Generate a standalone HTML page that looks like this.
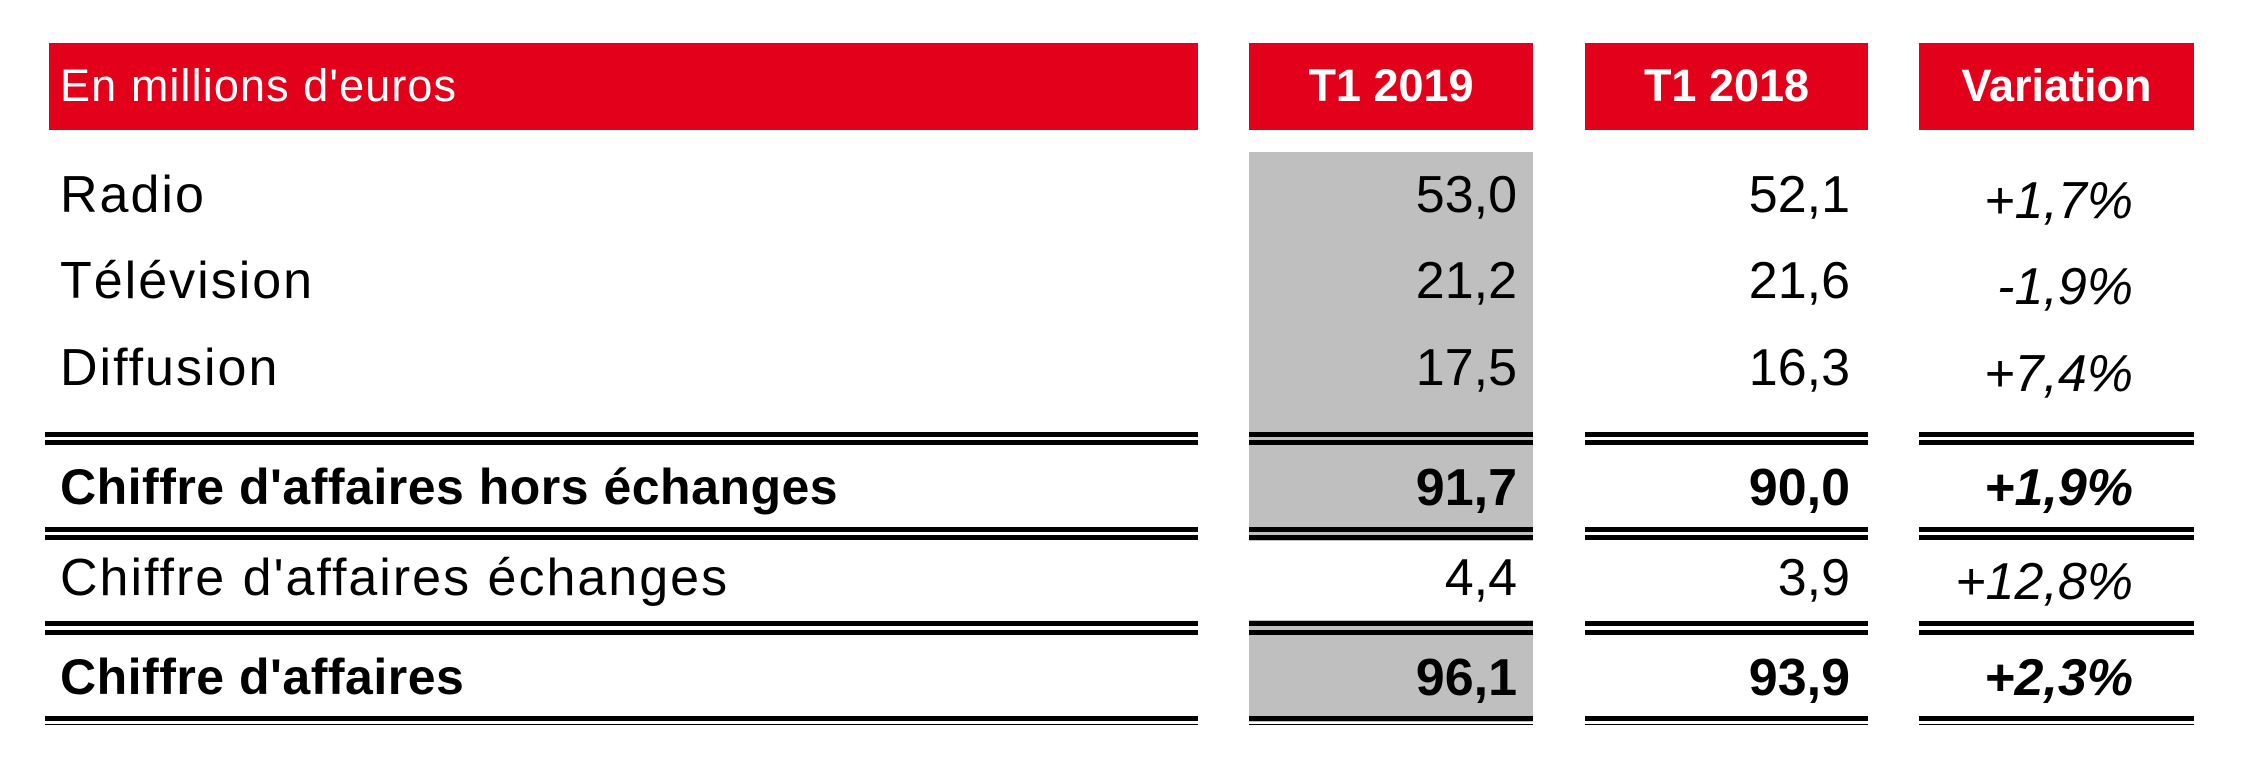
<!DOCTYPE html>
<html><head><meta charset="utf-8"><style>
body{margin:0;width:2244px;height:780px;background:#fff;position:relative;overflow:hidden;font-family:"Liberation Sans",sans-serif;}
.t{position:absolute;line-height:1;font-size:52px;color:#000;white-space:nowrap;}
.r{text-align:right;}
.b{font-weight:bold;}
.i{font-style:italic;}
.red{position:absolute;background:#e2001a;top:43px;height:87px;}
.h{position:absolute;color:#fff;font-size:45px;line-height:1;top:63px;white-space:nowrap;}
.k{position:absolute;background:#000;}
.g{position:absolute;background:#bfbfbf;}
.l{letter-spacing:2px;}
</style></head><body>
<div class="red" style="left:49px;width:1149px"></div>
<div class="red" style="left:1249px;width:284px"></div>
<div class="red" style="left:1585px;width:283px"></div>
<div class="red" style="left:1919px;width:275px"></div>
<div class="h" style="left:60px;letter-spacing:1.1px">En millions d'euros</div>
<div class="h b" style="left:1249px;width:284px;text-align:center">T1 2019</div>
<div class="h b" style="left:1585px;width:283px;text-align:center">T1 2018</div>
<div class="h b" style="left:1919px;width:275px;text-align:center">Variation</div>

<div class="g" style="left:1249px;width:284px;top:152px;height:389px"></div>
<div class="g" style="left:1249px;width:284px;top:620px;height:102px"></div>

<div class="k" style="left:45px;width:1153px;top:432px;height:5px"></div><div class="k" style="left:45px;width:1153px;top:440px;height:5px"></div>
<div class="k" style="left:45px;width:1153px;top:527px;height:5px"></div><div class="k" style="left:45px;width:1153px;top:535px;height:5px"></div>
<div class="k" style="left:45px;width:1153px;top:621px;height:5px"></div><div class="k" style="left:45px;width:1153px;top:630px;height:5px"></div>
<div class="k" style="left:45px;width:1153px;top:716px;height:5px"></div><div class="k" style="left:45px;width:1153px;top:724px;height:1px"></div>

<div class="k" style="left:1249px;width:284px;top:432px;height:5px"></div><div class="k" style="left:1249px;width:284px;top:440px;height:5px"></div>
<div class="k" style="left:1249px;width:284px;top:527px;height:5px"></div><div class="k" style="left:1249px;width:284px;top:535px;height:5px"></div>
<div class="k" style="left:1249px;width:284px;top:621px;height:5px"></div><div class="k" style="left:1249px;width:284px;top:630px;height:5px"></div>
<div class="k" style="left:1249px;width:284px;top:716px;height:5px"></div><div class="k" style="left:1249px;width:284px;top:724px;height:1px"></div>

<div class="k" style="left:1585px;width:283px;top:432px;height:5px"></div><div class="k" style="left:1585px;width:283px;top:440px;height:5px"></div>
<div class="k" style="left:1585px;width:283px;top:527px;height:5px"></div><div class="k" style="left:1585px;width:283px;top:535px;height:5px"></div>
<div class="k" style="left:1585px;width:283px;top:621px;height:5px"></div><div class="k" style="left:1585px;width:283px;top:630px;height:5px"></div>
<div class="k" style="left:1585px;width:283px;top:716px;height:5px"></div><div class="k" style="left:1585px;width:283px;top:724px;height:1px"></div>

<div class="k" style="left:1919px;width:275px;top:432px;height:5px"></div><div class="k" style="left:1919px;width:275px;top:440px;height:5px"></div>
<div class="k" style="left:1919px;width:275px;top:527px;height:5px"></div><div class="k" style="left:1919px;width:275px;top:535px;height:5px"></div>
<div class="k" style="left:1919px;width:275px;top:621px;height:5px"></div><div class="k" style="left:1919px;width:275px;top:630px;height:5px"></div>
<div class="k" style="left:1919px;width:275px;top:716px;height:5px"></div><div class="k" style="left:1919px;width:275px;top:724px;height:1px"></div>

<div class="t l" style="left:60px;top:169px">Radio</div>
<div class="t l" style="left:60px;top:255px">Télévision</div>
<div class="t l" style="left:60px;top:342px">Diffusion</div>
<div class="t b" style="left:60px;top:462px;font-size:50px;letter-spacing:0.5px">Chiffre d'affaires hors échanges</div>
<div class="t l" style="left:60px;top:552px">Chiffre d'affaires échanges</div>
<div class="t b" style="left:60px;top:652px;font-size:50px;letter-spacing:0.5px">Chiffre d'affaires</div>

<div class="t r" style="right:727px;top:169px">53,0</div>
<div class="t r" style="right:727px;top:255px">21,2</div>
<div class="t r" style="right:727px;top:342px">17,5</div>
<div class="t r b" style="right:727px;top:462px">91,7</div>
<div class="t r" style="right:727px;top:552px">4,4</div>
<div class="t r b" style="right:727px;top:652px">96,1</div>

<div class="t r" style="right:394px;top:169px">52,1</div>
<div class="t r" style="right:394px;top:255px">21,6</div>
<div class="t r" style="right:394px;top:342px">16,3</div>
<div class="t r b" style="right:394px;top:462px">90,0</div>
<div class="t r" style="right:394px;top:552px">3,9</div>
<div class="t r b" style="right:394px;top:652px">93,9</div>

<div class="t r i" style="right:111px;top:175px">+1,7%</div>
<div class="t r i" style="right:111px;top:261px">-1,9%</div>
<div class="t r i" style="right:111px;top:348px">+7,4%</div>
<div class="t r i b" style="right:111px;top:462px">+1,9%</div>
<div class="t r i" style="right:111px;top:556px">+12,8%</div>
<div class="t r i b" style="right:111px;top:652px">+2,3%</div>
</body></html>
